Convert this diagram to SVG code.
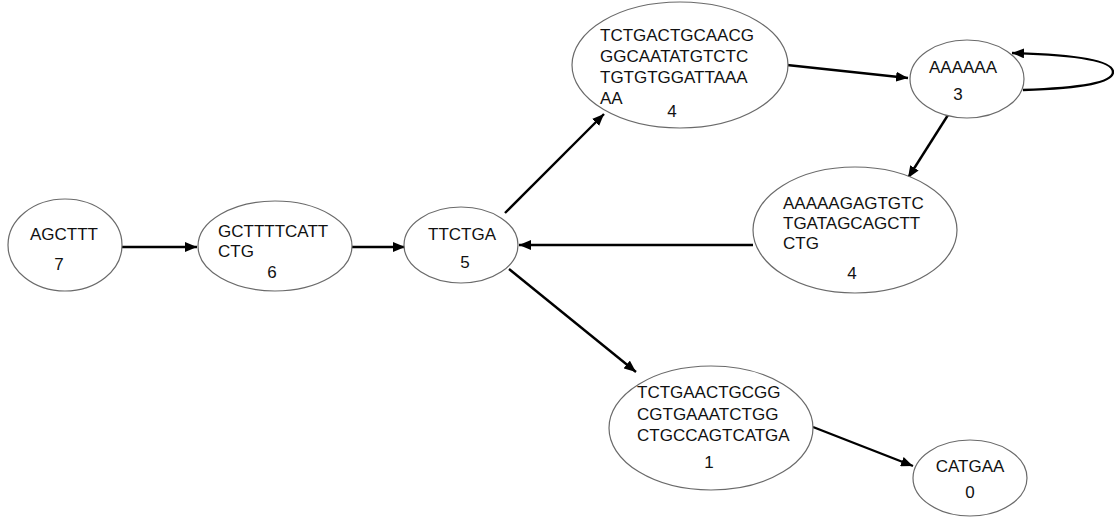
<svg xmlns="http://www.w3.org/2000/svg" width="1114" height="518" viewBox="0 0 1114 518">
<style>
.n{fill:#fff;stroke:#6a6a6a;stroke-width:1.2}
.t{font-family:"Liberation Sans",Arial,sans-serif;font-size:17px;fill:#111}
.m{text-anchor:middle}
.e{fill:none;stroke:#000;stroke-width:2.4}
</style>
<defs>
<marker id="ah" viewBox="0 0 12 10" refX="12" refY="5" markerWidth="12" markerHeight="10" markerUnits="userSpaceOnUse" orient="auto">
<path d="M0,0 L12,5 L0,10 Z" fill="#000"/>
</marker>
</defs>
<rect width="1114" height="518" fill="#fff"/>
<g id="connectors">
<path class="e" d="M122,247 L197,247" marker-end="url(#ah)"/>
<path class="e" d="M352,247 L405,247" marker-end="url(#ah)"/>
<path class="e" d="M505,213 L604,114" marker-end="url(#ah)"/>
<path class="e" d="M787,65 L908,78" marker-end="url(#ah)"/>
<path class="e" d="M1023,90 C1085,88 1113,82 1113,72 C1113,62 1085,55 1012,53" marker-end="url(#ah)"/>
<path class="e" d="M948,115 L908,178" marker-end="url(#ah)"/>
<path class="e" d="M753,245 L519,245" marker-end="url(#ah)"/>
<path class="e" d="M509,269 L636,372" marker-end="url(#ah)"/>
<path class="e" d="M813,427 L913,466" marker-end="url(#ah)"/>
</g>
<g id="n7">
<ellipse class="n" cx="65" cy="245" rx="57" ry="46"/>
<text class="t m" x="64" y="240">AGCTTT</text>
<text class="t m" x="59" y="270">7</text>
</g>
<g id="n6">
<ellipse class="n" cx="275" cy="246" rx="77" ry="45"/>
<text class="t" x="218" y="237">GCTTTTCATT</text>
<text class="t" x="218" y="257">CTG</text>
<text class="t m" x="272" y="278">6</text>
</g>
<g id="n5">
<ellipse class="n" cx="461" cy="245" rx="57" ry="38"/>
<text class="t m" x="462" y="240">TTCTGA</text>
<text class="t m" x="465" y="268">5</text>
</g>
<g id="n4a">
<ellipse class="n" cx="680" cy="65" rx="108" ry="63"/>
<text class="t" x="600" y="41">TCTGACTGCAACG</text>
<text class="t" x="600" y="62">GGCAATATGTCTC</text>
<text class="t" x="600" y="83">TGTGTGGATTAAA</text>
<text class="t" x="600" y="104">AA</text>
<text class="t m" x="672" y="117">4</text>
</g>
<g id="n3">
<ellipse class="n" cx="967" cy="79" rx="57" ry="39"/>
<text class="t m" x="963" y="73">AAAAAA</text>
<text class="t m" x="958" y="100">3</text>
</g>
<g id="n4b">
<ellipse class="n" cx="855" cy="230" rx="102" ry="63"/>
<text class="t" x="783" y="209">AAAAAGAGTGTC</text>
<text class="t" x="783" y="229">TGATAGCAGCTT</text>
<text class="t" x="783" y="249">CTG</text>
<text class="t m" x="852" y="279">4</text>
</g>
<g id="n1">
<ellipse class="n" cx="711" cy="428" rx="102" ry="62"/>
<text class="t" x="637" y="398">TCTGAACTGCGG</text>
<text class="t" x="637" y="420">CGTGAAATCTGG</text>
<text class="t" x="637" y="441">CTGCCAGTCATGA</text>
<text class="t m" x="709" y="468">1</text>
</g>
<g id="n0">
<ellipse class="n" cx="970" cy="478" rx="57" ry="38"/>
<text class="t m" x="970" y="472">CATGAA</text>
<text class="t m" x="970" y="498">0</text>
</g>
</svg>
